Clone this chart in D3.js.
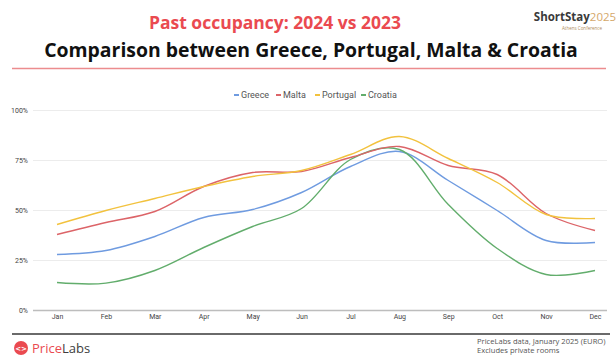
<!DOCTYPE html>
<html><head><meta charset="utf-8">
<script src="https://cdn.jsdelivr.net/npm/d3@7"></script>
<style>body{margin:0;background:#fff;}svg{display:block;}</style>
</head><body>
<script>
const months = ["Jan","Feb","Mar","Apr","May","Jun","Jul","Aug","Sep","Oct","Nov","Dec"];
const greece   = [28, 30, 37, 46.5, 50.5, 59, 72, 79.5, 65, 50, 35, 34];
const malta    = [38, 44, 49.5, 62, 69, 69.5, 76.5, 82, 72.5, 68, 48.5, 40];
const portugal = [43, 50, 56, 62, 67, 70, 78, 87, 76, 64, 48, 46];
const croatia  = [14, 13.7, 20, 31.5, 42, 51, 75.5, 80.5, 53, 31, 18, 20];
const seriesNames = ["Greece","Malta","Portugal","Croatia"];
const seriesColors = ["#6f9be0","#dc6468","#f2c23e","#62ad6c"];
const yTicks = [0, 25, 50, 75, 100];

const W = 616, H = 356;
const svg = d3.select("body").append("svg").attr("width", W).attr("height", H);

// Title
svg.append("text").attr("x", 275).attr("y", 29).attr("text-anchor","middle")
  .attr("font-family","Open Sans, sans-serif").attr("font-weight",700).attr("font-size",17.5)
  .attr("fill","#ea4a50").text("Past occupancy: 2024 vs 2023");
svg.append("text").attr("x", 311).attr("y", 57).attr("text-anchor","middle")
  .attr("font-family","Open Sans, sans-serif").attr("font-weight",700).attr("font-size",19.4)
  .attr("fill","#111").text("Comparison between Greece, Portugal, Malta & Croatia");
svg.append("line").attr("x1",12).attr("x2",606).attr("y1",68.5).attr("y2",68.5)
  .attr("stroke","#ec8c8e").attr("stroke-width",1.5);

// ShortStay logo
const logo = svg.append("text").attr("x", 575).attr("y", 21).attr("text-anchor","middle")
  .attr("font-family","Open Sans, sans-serif").attr("font-size",11.5);
logo.append("tspan").attr("font-weight",700).attr("fill","#3a3a3a").text("ShortStay");
logo.append("tspan").attr("font-weight",400).attr("fill","#d5a86a").text("2025");
svg.append("text").attr("x", 582).attr("y", 30).attr("text-anchor","middle")
  .attr("font-family","Open Sans, sans-serif").attr("font-size",4.5).attr("fill","#b08b5a")
  .text("Athens Conference");

// Scales
const x = d3.scalePoint().domain(months).range([57, 595]);
const y = d3.scaleLinear().domain([0, 100]).range([310.5, 110.5]);

// Grid
svg.append("g").selectAll("line").data(yTicks).join("line")
  .attr("x1", 33).attr("x2", 607)
  .attr("y1", d => y(d)).attr("y2", d => y(d))
  .attr("stroke", d => d === 0 ? "#bdbdbd" : "#ececec").attr("stroke-width", d => d === 0 ? 1.5 : 1);

// Y axis labels
const yAxis = d3.axisLeft(y).tickValues(yTicks).tickFormat(d => d + "%").tickSize(0).tickPadding(0);
svg.append("g").attr("transform","translate(28,0)").call(yAxis)
  .call(g => g.select(".domain").remove())
  .selectAll("text").attr("font-family","Roboto, sans-serif").attr("font-size",7).attr("fill","#444");

// X axis labels
const xAxis = d3.axisBottom(x).tickSize(0).tickPadding(0);
svg.append("g").attr("transform","translate(0,314)").call(xAxis)
  .call(g => g.select(".domain").remove())
  .selectAll("text").attr("font-family","Roboto, sans-serif").attr("font-size",7).attr("fill","#444");

// Lines
const data = [greece, malta, portugal, croatia];
const line = d3.line().x((d,i) => x(months[i])).y(d => y(d)).curve(d3.curveCatmullRom.alpha(0.5));
const drawOrder = [0, 3, 1, 2];
drawOrder.forEach(k => {
  svg.append("path").datum(data[k]).attr("d", line).attr("fill","none")
    .attr("stroke", seriesColors[k]).attr("stroke-width", 1.4);
});

// Legend
const legendX = [234, 276, 315, 361];
const lg = svg.append("g");
seriesNames.forEach((n, i) => {
  lg.append("rect").attr("x", legendX[i]).attr("y", 94).attr("width", 5).attr("height", 2)
    .attr("fill", seriesColors[i]);
  lg.append("text").attr("x", legendX[i] + 7).attr("y", 98)
    .attr("font-family","Roboto, sans-serif").attr("font-size",9).attr("fill","#555").text(n);
});

// Footer
svg.append("line").attr("x1",12).attr("x2",610).attr("y1",334).attr("y2",334)
  .attr("stroke","#6a6a6a").attr("stroke-width",2);
svg.append("circle").attr("cx",21).attr("cy",348).attr("r",7).attr("fill","#ea4a50");
svg.append("text").attr("x",21).attr("y",350.5).attr("text-anchor","middle")
  .attr("font-family","DejaVu Sans, sans-serif").attr("font-weight",700).attr("font-size",7).attr("fill","#fff").text("<>");
const pl = svg.append("text").attr("x",32).attr("y",353)
  .attr("font-family","Open Sans, sans-serif").attr("font-size",13);
pl.append("tspan").attr("fill","#ea4a50").text("Price");
pl.append("tspan").attr("fill","#3d3d3d").text("Labs");
svg.append("text").attr("x",477).attr("y",344)
  .attr("font-family","Open Sans, sans-serif").attr("font-size",7.6).attr("fill","#555")
  .text("PriceLabs data, January 2025 (EURO)");
svg.append("text").attr("x",477).attr("y",353)
  .attr("font-family","Open Sans, sans-serif").attr("font-size",7.6).attr("fill","#555")
  .text("Excludes private rooms");
</script>
</body></html>
